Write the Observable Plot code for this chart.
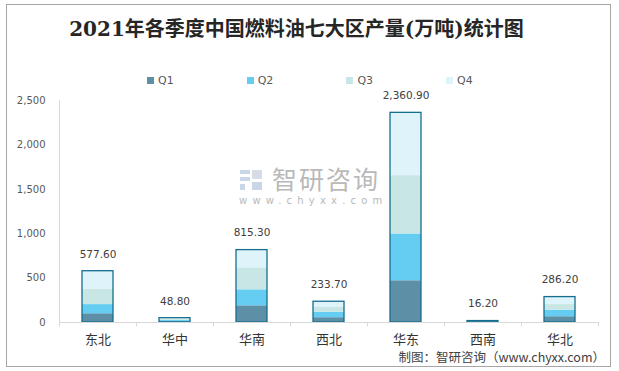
<!DOCTYPE html>
<html>
<head>
<meta charset="utf-8">
<script src="https://cdn.jsdelivr.net/npm/d3@7"></script>
<script src="https://cdn.jsdelivr.net/npm/@observablehq/plot@0.6"></script>
<style>
  html, body { margin: 0; padding: 0; background: #fff; }
  #wrap { position: relative; width: 619px; height: 371px; overflow: hidden; font-family: "DejaVu Sans", "Noto Sans CJK SC", sans-serif; }
  #frame { position: absolute; left: 6px; top: 4px; width: 603px; height: 361px; border: 1px solid #a6a6a6; pointer-events: none; }
  #title { position: absolute; left: 0; width: 593px; top: 13px; text-align: center; font-family: "DejaVu Serif", "Noto Sans CJK SC", serif; font-weight: bold; font-size: 20px; color: #262626; white-space: nowrap; }
  #legend { position: absolute; top: 74px; left: 147px; display: flex; font-size: 11px; color: #595959; }
  .item { width: 99.7px; display: flex; align-items: center; }
  .sw { width: 7px; height: 7px; margin-right: 4px; }
  #caption { position: absolute; right: 14px; top: 347px; font-family: "Noto Sans CJK SC", sans-serif; font-size: 12.5px; color: #404040; white-space: nowrap; }
  #wm { position: absolute; left: 239px; top: 165px; color: #b9b9b9; pointer-events: none; }
  #wm .big { position: absolute; left: 33px; top: 1px; line-height: 1; font-family: "Noto Sans CJK SC", sans-serif; font-size: 25px; letter-spacing: 2px; white-space: nowrap; }
  #wm .small { position: absolute; left: 0; top: 31px; line-height: 1; font-family: "DejaVu Sans", sans-serif; font-size: 10px; letter-spacing: 5.2px; white-space: nowrap; }
  #chart { position: absolute; left: 0; top: 0; }
</style>
</head>
<body>
<div id="wrap">
  <div id="chart"></div>
  <div id="wm">
    <svg width="26" height="24" style="position:absolute;left:0;top:3px">
      <rect x="1" y="2" width="10" height="4" fill="#c9d6e8"/>
      <rect x="1" y="9" width="10" height="4" fill="#c9d6e8"/>
      <rect x="1" y="16" width="5" height="6" fill="#c9d6e8"/>
      <rect x="13" y="2" width="10" height="9" fill="#d5dce6"/>
      <rect x="13" y="14" width="10" height="8" fill="#c9d6e8"/>
    </svg>
    <div class="big">智研咨询</div>
    <div class="small">www.chyxx.com</div>
  </div>
  <div id="title">2021年各季度中国燃料油七大区产量(万吨)统计图</div>
  <div id="legend"></div>
  <div id="caption">制图：智研咨询（www.chyxx.com）</div>
  <div id="frame"></div>
</div>
<script>
const regions = ["东北", "华中", "华南", "西北", "华东", "西南", "华北"];
const quarters = ["Q1", "Q2", "Q3", "Q4"];
const q1 = [98.5, 12.0, 188.0, 54.0, 470.0, 4.0, 65.0];
const q2 = [103.2, 12.0, 180.0, 61.0, 527.0, 4.0, 72.0];
const q3 = [172.4, 12.0, 248.0, 54.0, 657.0, 4.0, 65.0];
const q4 = [203.5, 12.8, 199.3, 64.7, 706.9, 4.2, 84.2];
const totals = [577.60, 48.80, 815.30, 233.70, 2360.90, 16.20, 286.20];
const yTicks = [0, 500, 1000, 1500, 2000, 2500];
const colors = ["#5d8fa6", "#66cdf2", "#c8e7e4", "#dff3fa"];

const series = [q1, q2, q3, q4];
const rows = [];
regions.forEach((r, i) => quarters.forEach((q, j) => rows.push({region: r, quarter: q, value: series[j][i]})));
const totalRows = regions.map((r, i) => ({region: r, total: totals[i]}));

const W = 619, H = 371, mL = 59, mR = 21, mT = 100, mB = 49;
const step = (W - mL - mR) / regions.length;
const tickRows = regions.map((r, i) => ({region: r, dx: -step / 2})).concat([{region: regions[regions.length - 1], dx: step / 2}]);

const plot = Plot.plot({
  width: W, height: H,
  marginLeft: mL, marginRight: mR, marginTop: mT, marginBottom: mB,
  style: {background: "transparent", overflow: "visible"},
  x: {domain: regions, paddingInner: 0.6, paddingOuter: 0.3, axis: null},
  y: {domain: [0, 2500], axis: null},
  color: {domain: quarters, range: colors},
  marks: [
    Plot.barY(rows, {x: "region", y: "value", fill: "quarter", order: quarters}),
    Plot.barY(totalRows, {x: "region", y: "total", fill: "none", stroke: "#166e8f", strokeWidth: 1.3}),
    Plot.ruleY([0], {stroke: "#d9d9d9", strokeWidth: 1}),
    Plot.ruleX([regions[0]], {y1: 0, y2: 2500, dx: -step / 2, stroke: "#d9d9d9"}),
    ...tickRows.map(t => Plot.ruleX([t], {x: "region", y1: 0, y2: -50, dx: t.dx, stroke: "#d9d9d9"})),
    Plot.axisY({ticks: yTicks, tickSize: 0, tickPadding: 14, tickFormat: d3.format(","), fontSize: 10, fill: "#595959", fontFamily: "DejaVu Sans", label: null}),
    Plot.axisX({tickSize: 0, tickPadding: 12, fontSize: 13, fill: "#333", fontFamily: "Noto Sans CJK SC", label: null}),
    Plot.text(totalRows, {x: "region", y: "total", text: d => d3.format(",.2f")(d.total), dy: -17, fontSize: 10.5, fill: "#404040", fontFamily: "DejaVu Sans"})
  ]
});
document.getElementById("chart").appendChild(plot);

const lg = document.getElementById("legend");
quarters.forEach((q, i) => {
  const it = document.createElement("div");
  it.className = "item";
  it.innerHTML = `<span class="sw" style="background:${colors[i]}"></span><span>${q}</span>`;
  lg.appendChild(it);
});
</script>
</body>
</html>
